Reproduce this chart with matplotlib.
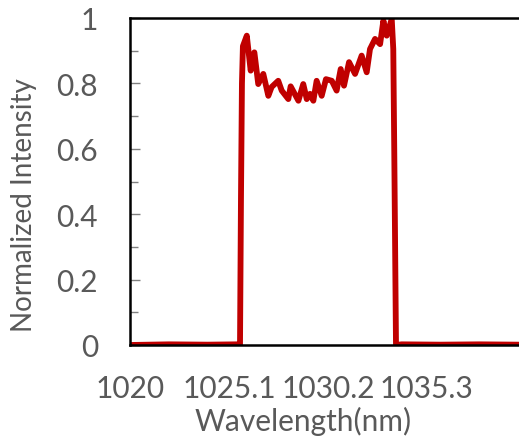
import matplotlib.pyplot as plt
from matplotlib.ticker import MultipleLocator

# spectrum (nm, normalized intensity)
wavelength = [1020.0, 1022.0, 1024.0, 1025.5, 1025.67, 1025.72, 1025.77, 1025.82,
              1026.02, 1026.22, 1026.41, 1026.61, 1026.87, 1027.13, 1027.30,
              1027.64, 1027.82, 1028.16, 1028.28, 1028.68, 1028.93, 1029.11,
              1029.28, 1029.45, 1029.62, 1029.88, 1030.10, 1030.40, 1030.65,
              1030.86, 1031.03, 1031.29, 1031.60, 1031.94, 1032.20, 1032.37,
              1032.63, 1032.89, 1033.06, 1033.23, 1033.49, 1033.57, 1033.62,
              1033.71, 1034.0, 1036.0, 1038.0, 1040.0, 1041.0]
intensity = [0.0, 0.002, 0.001, 0.002, 0.0, 0.45, 0.8, 0.914,
             0.946, 0.839, 0.895, 0.798, 0.829, 0.762, 0.789,
             0.808, 0.778, 0.752, 0.791, 0.747, 0.798, 0.752,
             0.768, 0.747, 0.808, 0.762, 0.813, 0.808, 0.778,
             0.844, 0.793, 0.865, 0.829, 0.885, 0.834, 0.905,
             0.936, 0.920, 0.992, 0.946, 0.997, 0.905, 0.599,
             0.0, 0.002, 0.001, 0.002, 0.001, 0.0]

x_ticks = [1020, 1025.1, 1030.2, 1035.3]
x_labels = ['1020', '1025.1', '1030.2', '1035.3']
y_ticks = [0, 0.2, 0.4, 0.6, 0.8, 1]
y_labels = ['0', '0.2', '0.4', '0.6', '0.8', '1']

cor_texto = '#595959'
plt.rcParams['font.family'] = ['Lato', 'DejaVu Sans']

fig = plt.figure(figsize=(5.19, 4.39), dpi=100)
ax = fig.add_axes([130 / 519, 93 / 439, 1 - 130 / 519, 327 / 439])

ax.plot(wavelength, intensity, color='#C00000', linewidth=4.2, solid_joinstyle='round', zorder=2)

ax.set_xlim(1020, 1040.05)
ax.set_ylim(0, 1)
ax.set_xticks(x_ticks)
ax.set_xticklabels(x_labels)
ax.set_yticks(y_ticks)
ax.set_yticklabels(y_labels)
ax.yaxis.set_minor_locator(MultipleLocator(0.1))

ax.tick_params(axis='x', length=0, pad=21, labelsize=21.5, labelcolor=cor_texto)
ax.tick_params(axis='y', which='major', direction='in', length=7, width=1,
               color='#808080', pad=23, labelsize=21.5, labelcolor=cor_texto)
ax.tick_params(axis='y', which='minor', direction='in', length=5.5, width=1, color='#808080')

for lado in ['top', 'left', 'bottom']:
    ax.spines[lado].set_color('black')
    ax.spines[lado].set_linewidth(1.8)
    ax.spines[lado].set_zorder(3)
ax.spines['right'].set_visible(False)

ax.set_xlabel('Wavelength(nm)', fontsize=21.5, color=cor_texto)
ax.xaxis.set_label_coords(0.445, -0.185)
ax.set_ylabel('Normalized Intensity', fontsize=20, color=cor_texto)
ax.yaxis.set_label_coords(-0.239, 0.431)

fig.savefig('out.png', dpi=100)
